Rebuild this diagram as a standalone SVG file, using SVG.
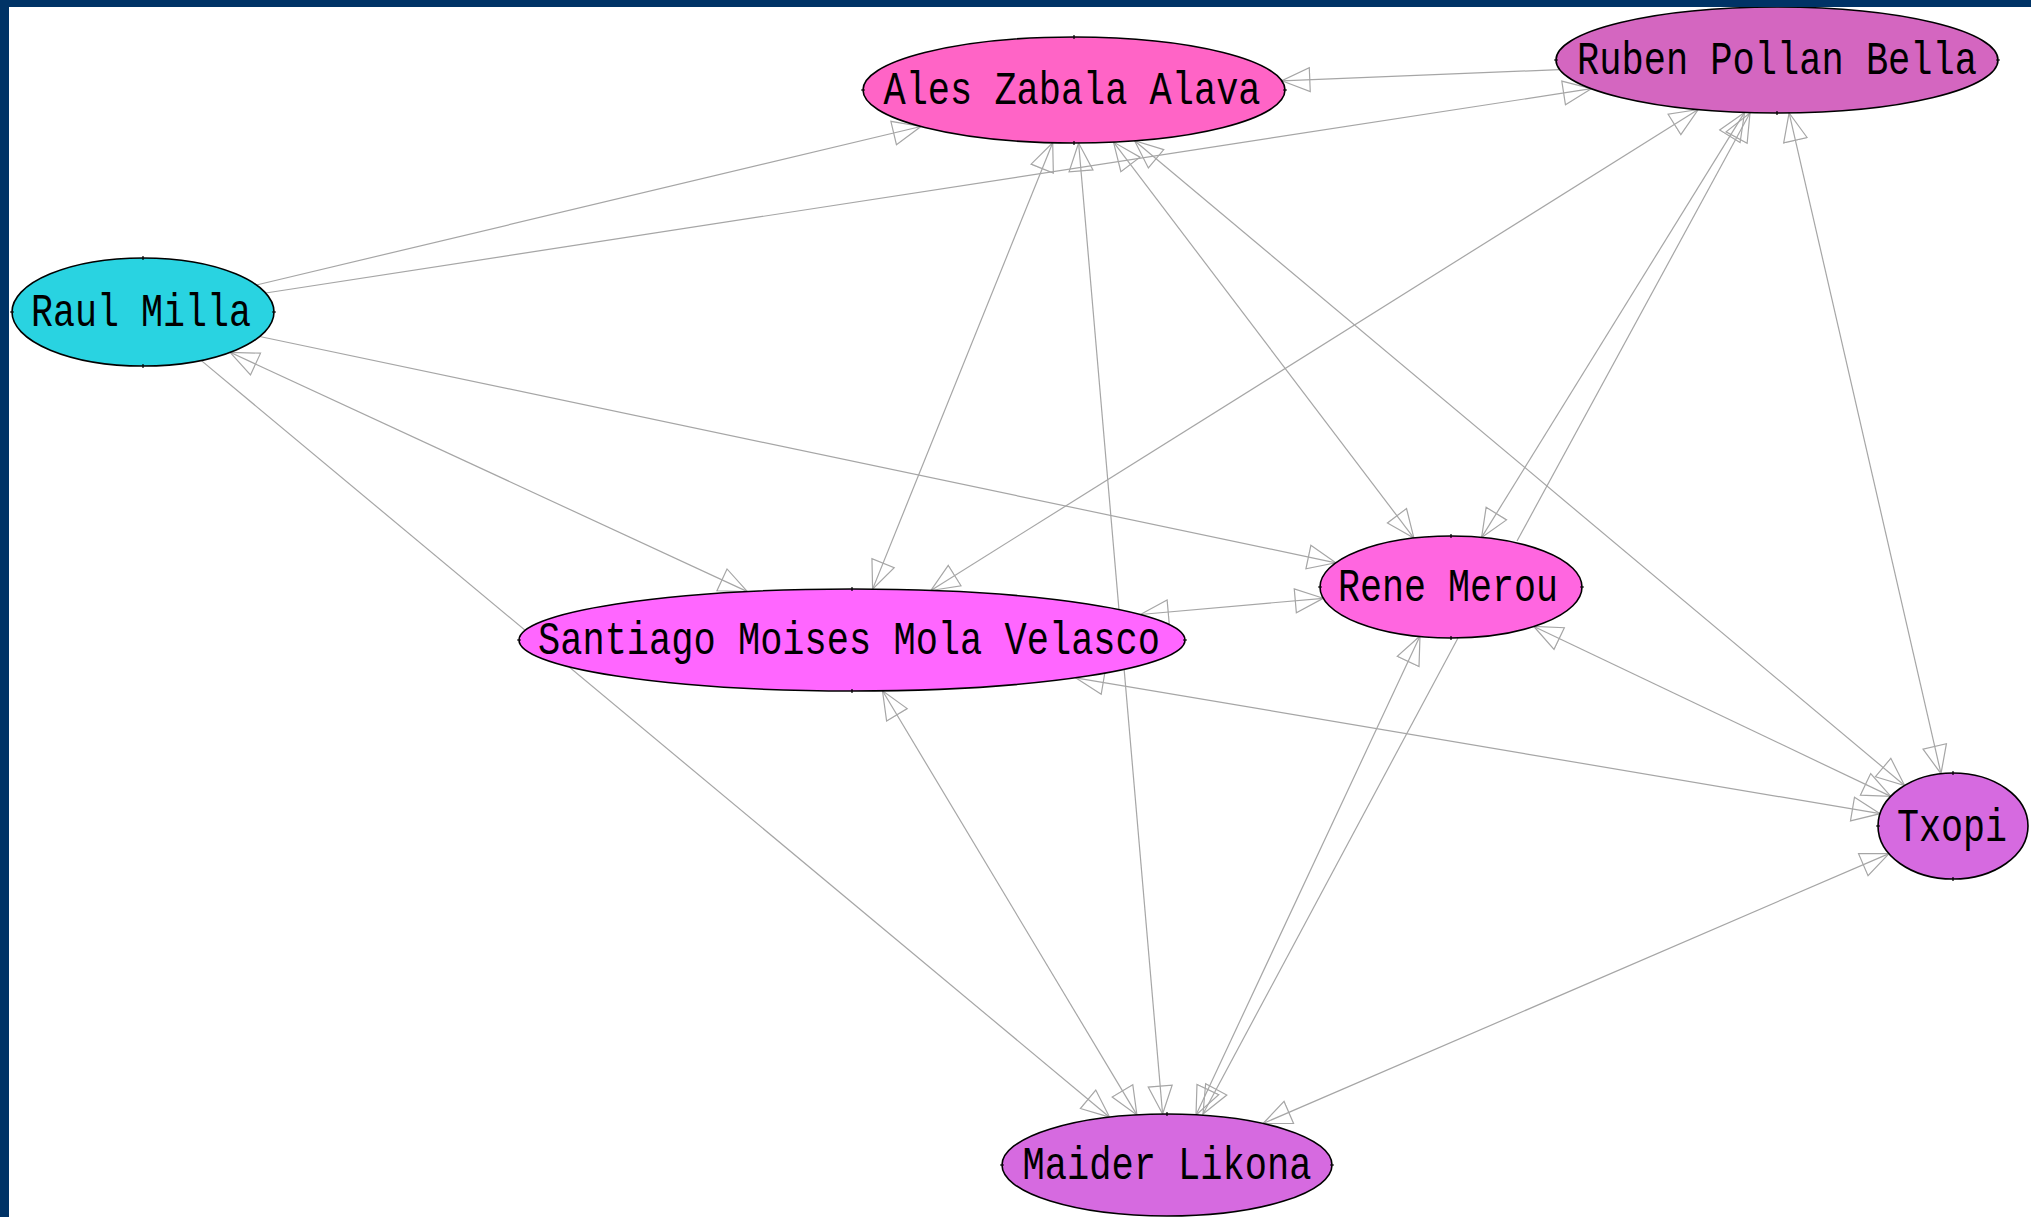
<svg xmlns="http://www.w3.org/2000/svg" width="2031" height="1217" viewBox="0 0 2031 1217">
<defs>
<marker id="ah" viewBox="0 0 30 28" refX="29" refY="14" markerWidth="30" markerHeight="28" markerUnits="userSpaceOnUse" orient="auto-start-reverse">
<path d="M29,14 L1,2 L1,26 Z" fill="none" stroke="#a6a6a6" stroke-width="1.2"/>
</marker>
</defs>
<style>
.e{stroke:#a6a6a6;stroke-width:1.2;fill:none}
.b{marker-start:url(#ah);marker-end:url(#ah)}
.o{marker-end:url(#ah)}
.n ellipse{stroke:#000;stroke-width:1.6}
.n path{stroke:#000;stroke-width:1.2;fill:none}
.n text{font-family:"Liberation Mono","DejaVu Sans Mono",monospace;font-size:46px;text-anchor:middle;fill:#000}
</style>
<rect width="2031" height="1217" fill="#fff"/>
<g id="connectors">
<line class="e o" x1="1559.6" y1="69.6" x2="1281.8" y2="80.8"/>
<line class="e o" x1="256.4" y1="285" x2="920.9" y2="126.5"/>
<line class="e o" x1="265.7" y1="293" x2="1591.3" y2="88.7"/>
<line class="e o" x1="259.7" y1="336.5" x2="1335.8" y2="562.8"/>
<line class="e b" x1="230.1" y1="352.3" x2="747.4" y2="591.6"/>
<line class="e o" x1="201.1" y1="360.4" x2="1109.6" y2="1117.2"/>
<line class="e b" x1="1052.7" y1="142.7" x2="872.6" y2="589.1"/>
<line class="e b" x1="1078.6" y1="143" x2="1162.6" y2="1114"/>
<line class="e b" x1="1113.5" y1="142.1" x2="1413.9" y2="538.1"/>
<line class="e b" x1="1134.6" y1="140.8" x2="1904.6" y2="785.5"/>
<line class="e b" x1="1698.2" y1="109.5" x2="930.9" y2="590.5"/>
<line class="e b" x1="1744.6" y1="112.4" x2="1481.6" y2="537.4"/>
<line class="e o" x1="1517" y1="541" x2="1750" y2="113"/>
<line class="e b" x1="1789.1" y1="112.9" x2="1941" y2="773.7"/>
<line class="e b" x1="1323.2" y1="598.3" x2="1140.3" y2="614.5"/>
<line class="e b" x1="1075.6" y1="677.8" x2="1880.1" y2="813.7"/>
<line class="e b" x1="882.5" y1="690.8" x2="1136.9" y2="1114.9"/>
<line class="e b" x1="1533.9" y1="626.5" x2="1890.8" y2="796.4"/>
<line class="e b" x1="1420" y1="636" x2="1196" y2="1115"/>
<line class="e o" x1="1458" y1="638" x2="1203" y2="1114"/>
<line class="e b" x1="1889" y1="853.6" x2="1263.1" y2="1123.5"/>
</g>
<g id="node-ales" class="n">
<ellipse cx="1074" cy="90" rx="211" ry="53" fill="#ff64c6"/>
<path d="M1074,35v4M1074,141v4M861,90h4M1283,90h4"/>
<text x="1072" y="104" textLength="377" lengthAdjust="spacingAndGlyphs">Ales Zabala Alava</text>
</g>
<g id="node-ruben" class="n">
<ellipse cx="1777" cy="60" rx="221" ry="53" fill="#d466c0"/>
<path d="M1777,111v4M1554,60h4M1996,60h4"/>
<text x="1777" y="74" textLength="400" lengthAdjust="spacingAndGlyphs">Ruben Pollan Bella</text>
</g>
<g id="node-raul" class="n">
<ellipse cx="143" cy="312" rx="131" ry="54" fill="#29d3e1"/>
<path d="M143,256v4M143,364v4M10,312h4M272,312h4"/>
<text x="141" y="326" textLength="220" lengthAdjust="spacingAndGlyphs">Raul Milla</text>
</g>
<g id="node-santiago" class="n">
<ellipse cx="852" cy="640" rx="333" ry="51" fill="#ff66ff"/>
<path d="M852,587v4M852,689v4M517,640h4M1183,640h4"/>
<text x="849" y="654" textLength="622" lengthAdjust="spacingAndGlyphs">Santiago Moises Mola Velasco</text>
</g>
<g id="node-rene" class="n">
<ellipse cx="1451" cy="587" rx="131" ry="51" fill="#ff66e0"/>
<path d="M1451,534v4M1451,636v4M1318,587h4M1580,587h4"/>
<text x="1448" y="601" textLength="220" lengthAdjust="spacingAndGlyphs">Rene Merou</text>
</g>
<g id="node-txopi" class="n">
<ellipse cx="1953" cy="826" rx="75" ry="53" fill="#d66ae0"/>
<path d="M1953,771v4M1953,877v4M1876,826h4"/>
<text x="1952" y="841" textLength="110" lengthAdjust="spacingAndGlyphs">Txopi</text>
</g>
<g id="node-maider" class="n">
<ellipse cx="1167" cy="1165" rx="165" ry="51" fill="#d66ae0"/>
<path d="M1167,1112v4M1000,1165h4M1330,1165h4"/>
<text x="1167" y="1179" textLength="289" lengthAdjust="spacingAndGlyphs">Maider Likona</text>
</g>
<rect x="0" y="0" width="2031" height="7" fill="#003366"/>
<rect x="0" y="0" width="9" height="1217" fill="#003366"/>
</svg>
